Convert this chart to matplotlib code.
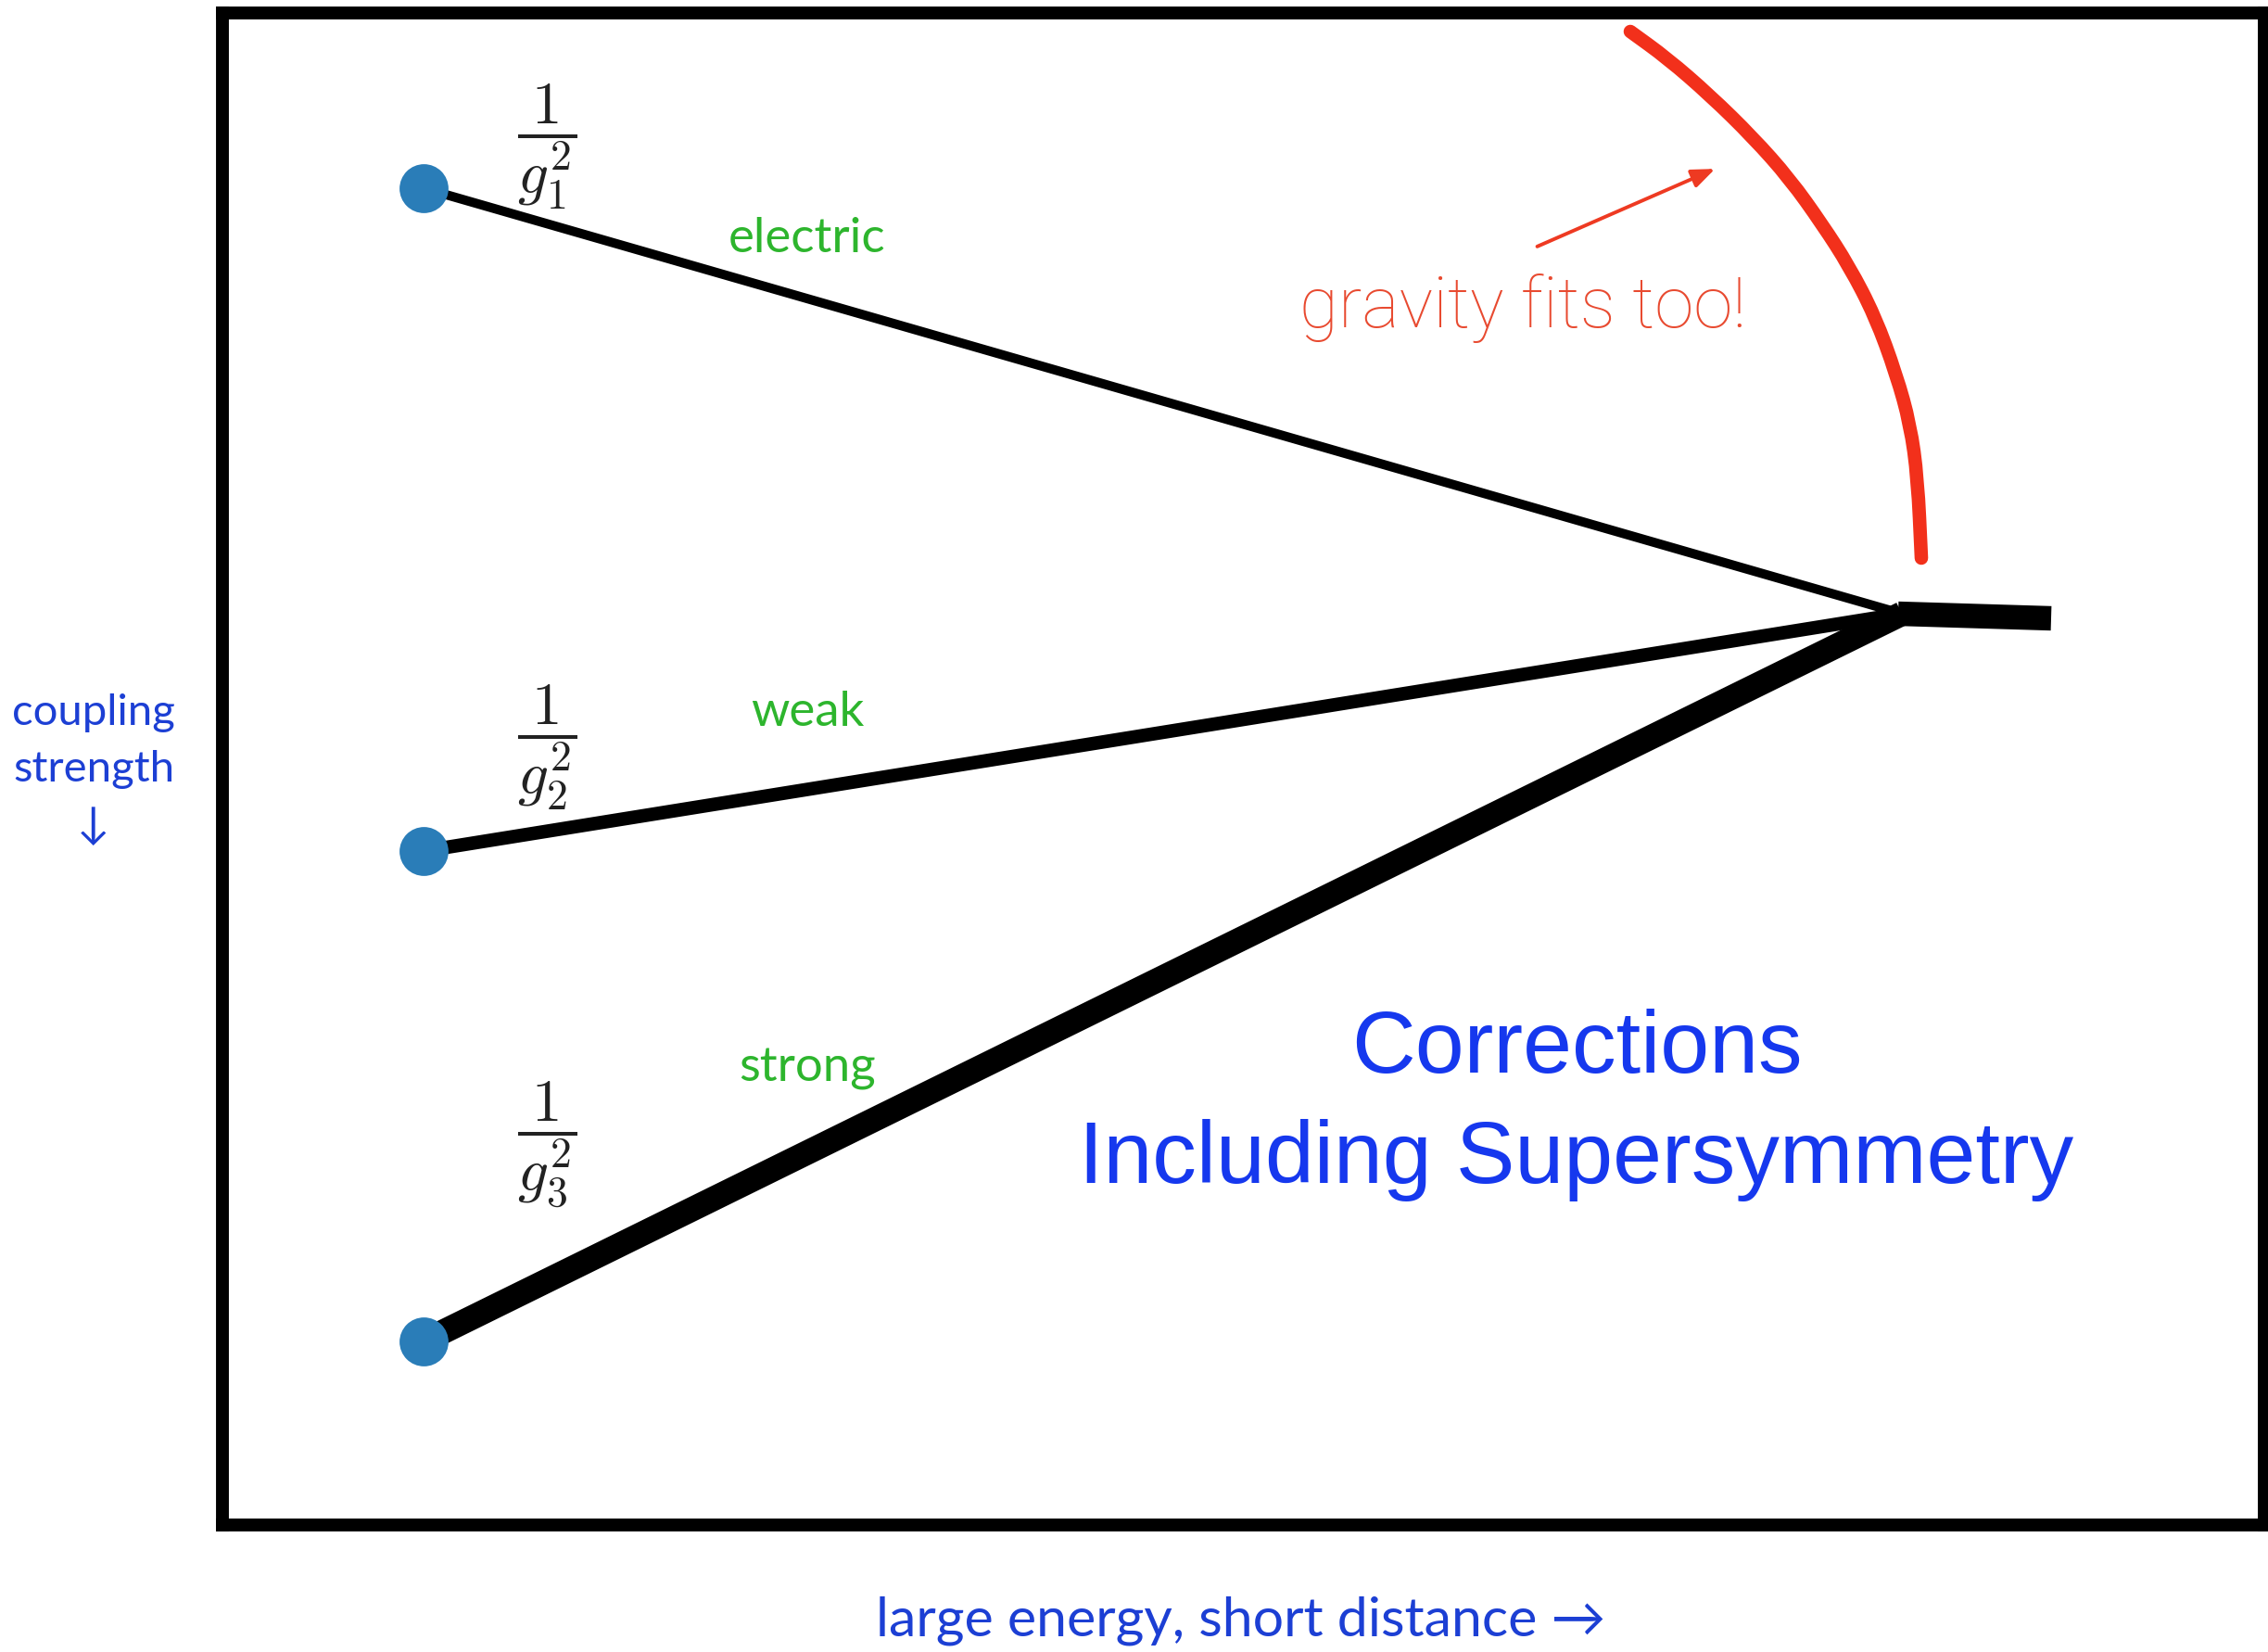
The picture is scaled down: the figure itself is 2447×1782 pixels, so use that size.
import matplotlib
matplotlib.use("Agg")
import matplotlib.pyplot as plt
from matplotlib.path import Path
from matplotlib.patches import PathPatch, FancyArrowPatch

plt.rcParams['mathtext.fontset'] = 'cm'

# ---------------- data (schematic, in drawing units) ----------------
forces = ['electric', 'weak', 'strong']
fractions = [r'$\dfrac{1}{g_1^2}$', r'$\dfrac{1}{g_2^2}$', r'$\dfrac{1}{g_3^2}$']
energy_low = 457          # x of the low-energy end
energy_unify = 2052       # x of the unification point
energy_end = 2213         # x where the unified line stops
inv_coupling_low = [203, 918, 1447]   # y of each force at low energy (axis inverted)
inv_coupling_unify = 662
inv_coupling_end = 667
line_widths = [7.2, 10.5, 19.0]

gravity_x = [1759, 1799, 1845, 1891, 1931, 1966, 1995, 2023, 2046, 2061, 2069, 2073]
gravity_y = [34, 63, 103, 148, 193, 242, 287, 341, 404, 458, 516, 602]

# ---------------- figure ----------------
W, H = 2447, 1782
fig = plt.figure(figsize=(W / 100, H / 100), dpi=100)
ax_l, ax_r, ax_t, ax_b = 240, 2443, 13.5, 1645
ax = fig.add_axes([ax_l / W, 1 - ax_b / H, (ax_r - ax_l) / W, (ax_b - ax_t) / H])
ax.set_xlim(ax_l, ax_r)
ax.set_ylim(ax_b, ax_t)
ax.set_xticks([])
ax.set_yticks([])
for s in ax.spines.values():
    s.set_linewidth(10)
    s.set_color('black')

# coupling lines
for y0, lw in zip(inv_coupling_low, line_widths):
    ax.plot([energy_low, energy_unify], [y0, inv_coupling_unify], color='black',
            lw=lw, solid_capstyle='butt', zorder=2)
ax.plot([energy_unify - 4, energy_end], [inv_coupling_unify, inv_coupling_end],
        color='black', lw=19, solid_capstyle='butt', zorder=2)

# low-energy dots
ax.plot([energy_low] * 3, inv_coupling_low, 'o', color='#2a7db8', ms=38,
        mec='none', zorder=3)

# fractions and force labels
frac_y = [158, 806, 1235]
label_y = [272, 783, 1166]
for fr, fy in zip(fractions, frac_y):
    ax.text(590, fy, fr, fontsize=47, ha='center', va='center', color='#222222')
for name, ly in zip(forces, label_y):
    ax.text(871, ly, name, fontsize=38, ha='center', va='baseline',
            color='#2db52d', family=['Lato', 'DejaVu Sans'])

# gravity arc: smooth quadratic B-spline through the read points
pts = list(zip(gravity_x, gravity_y))
verts = [pts[0]]
codes = [Path.MOVETO]
verts.append(((pts[0][0] + pts[1][0]) / 2, (pts[0][1] + pts[1][1]) / 2))
codes.append(Path.LINETO)
for i in range(1, len(pts) - 1):
    mid = ((pts[i][0] + pts[i + 1][0]) / 2, (pts[i][1] + pts[i + 1][1]) / 2)
    verts += [pts[i], mid]
    codes += [Path.CURVE3, Path.CURVE3]
verts.append(pts[-1])
codes.append(Path.LINETO)
ax.add_patch(PathPatch(Path(verts, codes), fill=False, edgecolor='#f2301b', lw=10.5,
                       capstyle='round', joinstyle='round', zorder=2))
ax.add_patch(FancyArrowPatch((1656, 267), (1853, 181), arrowstyle='-|>,head_length=15,head_width=6',
                             color='#ee3a22', lw=2.8, mutation_scale=1, zorder=3))
ax.text(1643, 353, 'gravity fits too!', fontsize=55, ha='center', va='baseline',
        color='#e84a30', family=['Roboto', 'DejaVu Sans'], fontweight='light')

# title text
ax.text(1701, 1157, 'Corrections', fontsize=68.5, ha='center', va='baseline',
        color='#1638ee', family=['Liberation Sans', 'DejaVu Sans'])
ax.text(1701, 1276, 'Including Supersymmetry', fontsize=68.5, ha='center', va='baseline',
        color='#1638ee', family=['Liberation Sans', 'DejaVu Sans'])

# axis labels
ax.set_xlabel('large energy, short distance →', fontsize=42.5, color='#1c3fd4',
              family=['Lato', 'DejaVu Sans'])
ax.xaxis.set_label_coords((1339 - ax_l) / (ax_r - ax_l), (ax_b - 1748) / (ax_b - ax_t))
ax.xaxis.label.set_va('center')
ax.set_ylabel('coupling\nstrength\n↓', fontsize=34, color='#1c3fd4', rotation=0,
              family=['Lato', 'DejaVu Sans'], linespacing=1.55)
ax.yaxis.set_label_coords((101 - ax_l) / (ax_r - ax_l), (ax_b - 830) / (ax_b - ax_t))
ax.yaxis.label.set_va('center')
ax.yaxis.label.set_ha('center')

fig.savefig('out.png', dpi=100, facecolor='white')
